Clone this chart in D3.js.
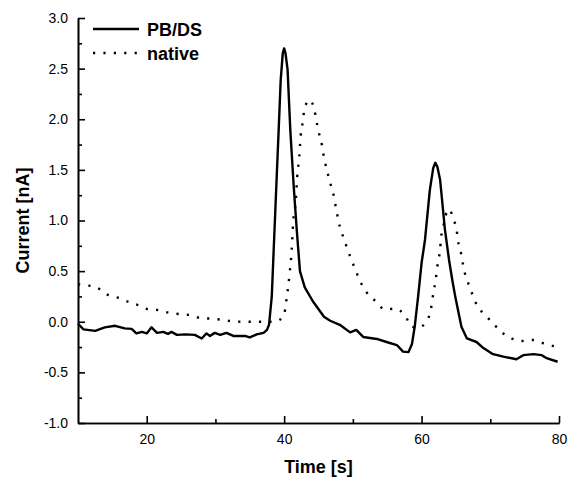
<!DOCTYPE html>
<html>
<head>
<meta charset="utf-8">
<script src="https://cdn.jsdelivr.net/npm/d3@7"></script>
<style>
  body { margin: 0; background: #fff; }
  svg { font-family: "Liberation Sans", Arial, sans-serif; }
  .axis path, .axis line { stroke: #000; stroke-width: 1.6; }
  .axis text { font-size: 14px; fill: #000; }
  .axis-title { font-size: 18px; font-weight: bold; }
  .legend-label { font-size: 18px; font-weight: bold; }
</style>
</head>
<body>
<svg id="chart"></svg>
<script>
// PB/DS trace (solid)
const pbTime = [10.0, 10.8, 12.5, 13.9, 15.4, 16.8, 17.8, 18.5, 19.3, 20.0, 20.7, 21.5, 22.4, 23.1, 23.6, 24.4,
  25.6, 27.0, 28.0, 28.7, 29.2, 29.9, 30.7, 31.6, 32.6, 34.3, 35.0, 36.0, 37.0, 37.5, 37.8, 38.2, 38.4, 38.8,
  39.2, 39.5, 39.8, 40.0, 40.2, 40.5, 40.9, 41.4, 41.8, 42.3, 43.0, 44.2, 45.8, 46.7, 48.1, 49.6, 50.5, 51.5,
  53.5, 54.9, 56.4, 57.3, 58.1, 58.6, 59.0, 59.5, 60.0, 60.5, 61.2, 61.7, 62.0, 62.3, 62.7, 63.4, 64.0, 64.5,
  64.9, 65.8, 66.6, 68.0, 69.0, 70.4, 71.9, 73.8, 74.8, 76.3, 77.5, 78.2, 79.8];
const pbCurrent = [-0.02, -0.075, -0.09, -0.055, -0.04, -0.065, -0.07, -0.115, -0.10, -0.115, -0.055, -0.11, -0.10, -0.12, -0.10, -0.13,
  -0.125, -0.13, -0.165, -0.115, -0.14, -0.11, -0.13, -0.11, -0.14, -0.14, -0.155, -0.125, -0.11, -0.08, -0.03, 0.25, 0.58, 1.24,
  1.89, 2.39, 2.65, 2.70, 2.65, 2.49, 1.89, 1.33, 0.94, 0.50, 0.34, 0.20, 0.05, 0.01, -0.03, -0.105, -0.08, -0.15,
  -0.17, -0.20, -0.23, -0.295, -0.30, -0.22, -0.05, 0.25, 0.58, 0.81, 1.30, 1.52, 1.57, 1.53, 1.40, 0.91, 0.61, 0.40,
  0.25, -0.05, -0.165, -0.20, -0.26, -0.32, -0.345, -0.37, -0.33, -0.32, -0.33, -0.36, -0.395];

// native trace (dotted)
const nativeTime = [10.0, 11.2, 12.7, 14.2, 15.7, 17.2, 18.7, 20.1, 21.7, 23.2, 24.8, 26.4, 27.9, 29.5, 30.9, 32.4,
  33.9, 35.4, 37.0, 38.5, 39.9, 40.4, 40.8, 41.1, 41.3, 41.7, 41.9, 42.2, 42.4, 42.7, 43.0, 43.8, 44.4, 45.0,
  45.4, 45.7, 46.0, 46.4, 46.8, 47.2, 47.5, 48.1, 48.7, 49.2, 49.8, 50.4, 51.0, 51.9, 53.2, 54.7, 56.1, 57.6,
  58.6, 59.5, 60.5, 61.2, 61.5, 61.7, 62.0, 62.2, 62.4, 62.7, 62.8, 63.1, 63.5, 64.0, 64.7, 65.1, 65.3, 65.7,
  66.0, 66.3, 66.8, 67.4, 68.0, 69.2, 70.4, 71.6, 73.1, 74.6, 76.2, 77.6, 79.2, 80.0];
const nativeCurrent = [0.37, 0.36, 0.34, 0.27, 0.24, 0.20, 0.165, 0.125, 0.115, 0.09, 0.075, 0.065, 0.035, 0.03, 0.02, 0.005,
  0.0, 0.0, 0.0, 0.0, 0.05, 0.25, 0.48, 0.71, 0.97, 1.20, 1.43, 1.63, 1.83, 1.97, 2.12, 2.19, 2.09, 1.88,
  1.78, 1.66, 1.56, 1.45, 1.35, 1.25, 1.14, 0.94, 0.82, 0.72, 0.61, 0.51, 0.41, 0.30, 0.21, 0.12, 0.13, 0.06,
  -0.05, -0.06, -0.015, 0.08, 0.18, 0.28, 0.39, 0.49, 0.60, 0.71, 0.81, 0.92, 1.05, 1.11, 1.00, 0.91, 0.80, 0.69,
  0.58, 0.48, 0.38, 0.27, 0.17, 0.07, -0.015, -0.10, -0.165, -0.19, -0.18, -0.21, -0.24, -0.25];

const xTicks = [20, 40, 60, 80];
const xMinorTicks = [30, 50, 70];
const yTicks = [-1.0, -0.5, 0.0, 0.5, 1.0, 1.5, 2.0, 2.5, 3.0];
const yMinorTicks = [-0.75, -0.25, 0.25, 0.75, 1.25, 1.75, 2.25, 2.75];
const seriesNames = ['PB/DS', 'native'];

const containerWidth = 569, containerHeight = 479;
const margin = {top: 18, right: 10, bottom: 56, left: 78};
const width = containerWidth - margin.left - margin.right;
const height = containerHeight - margin.top - margin.bottom;

const svg = d3.select('#chart')
    .attr('width', containerWidth)
    .attr('height', containerHeight);

const chart = svg.append('g')
    .attr('transform', `translate(${margin.left},${margin.top})`);

const xScale = d3.scaleLinear().domain([10, 80]).range([0, width]);
const yScale = d3.scaleLinear().domain([-1, 3]).range([height, 0]);

// ticks point inward, minor ticks are unlabeled
// plain hyphen for negatives, like the original figure
const xAxis = d3.axisBottom(xScale).tickValues(xTicks).tickSizeInner(-7).tickSizeOuter(0)
    .tickPadding(11).tickFormat(d => String(d));
const xMinor = d3.axisBottom(xScale).tickValues(xMinorTicks).tickSizeInner(-4).tickSizeOuter(0).tickFormat('');
const yAxis = d3.axisLeft(yScale).tickValues(yTicks).tickSizeInner(-7).tickSizeOuter(0)
    .tickPadding(10).tickFormat(d => d.toFixed(1));
const yMinor = d3.axisLeft(yScale).tickValues(yMinorTicks).tickSizeInner(-4).tickSizeOuter(0).tickFormat('');

chart.append('g').attr('class', 'axis').attr('transform', `translate(0,${height})`).call(xMinor);
chart.append('g').attr('class', 'axis').attr('transform', `translate(0,${height})`).call(xAxis);
chart.append('g').attr('class', 'axis').call(yMinor);
chart.append('g').attr('class', 'axis').call(yAxis);

// traces
const pbData = pbTime.map((t, i) => ({t: t, v: pbCurrent[i]}));
const nativeData = nativeTime.map((t, i) => ({t: t, v: nativeCurrent[i]}));

const line = d3.line()
    .x(d => xScale(d.t))
    .y(d => yScale(d.v));

chart.append('path')
    .datum(nativeData)
    .attr('fill', 'none')
    .attr('stroke', '#000')
    .attr('stroke-width', 2.4)
    .attr('stroke-dasharray', '2.2,8.2')
    .attr('d', line.curve(d3.curveMonotoneX));

chart.append('path')
    .datum(pbData)
    .attr('fill', 'none')
    .attr('stroke', '#000')
    .attr('stroke-width', 2.4)
    .attr('stroke-linejoin', 'round')
    .attr('d', line.curve(d3.curveLinear));

// legend
const legend = svg.append('g').attr('transform', 'translate(93,29)');
seriesNames.forEach((name, i) => {
    const g = legend.append('g').attr('transform', `translate(0,${i * 24})`);
    g.append('line')
        .attr('x1', 0).attr('x2', 46)
        .attr('stroke', '#000')
        .attr('stroke-width', 2.4)
        .attr('stroke-dasharray', i === 0 ? null : '2.2,8.2');
    g.append('text')
        .attr('class', 'legend-label')
        .attr('x', 54)
        .attr('y', 7)
        .text(name);
});

// axis titles
svg.append('text')
    .attr('class', 'axis-title')
    .attr('x', margin.left + width / 2)
    .attr('y', 473)
    .attr('text-anchor', 'middle')
    .text('Time [s]');

svg.append('text')
    .attr('class', 'axis-title')
    .attr('transform', `translate(29,${margin.top + height / 2}) rotate(-90)`)
    .attr('text-anchor', 'middle')
    .text('Current [nA]');
</script>
</body>
</html>
